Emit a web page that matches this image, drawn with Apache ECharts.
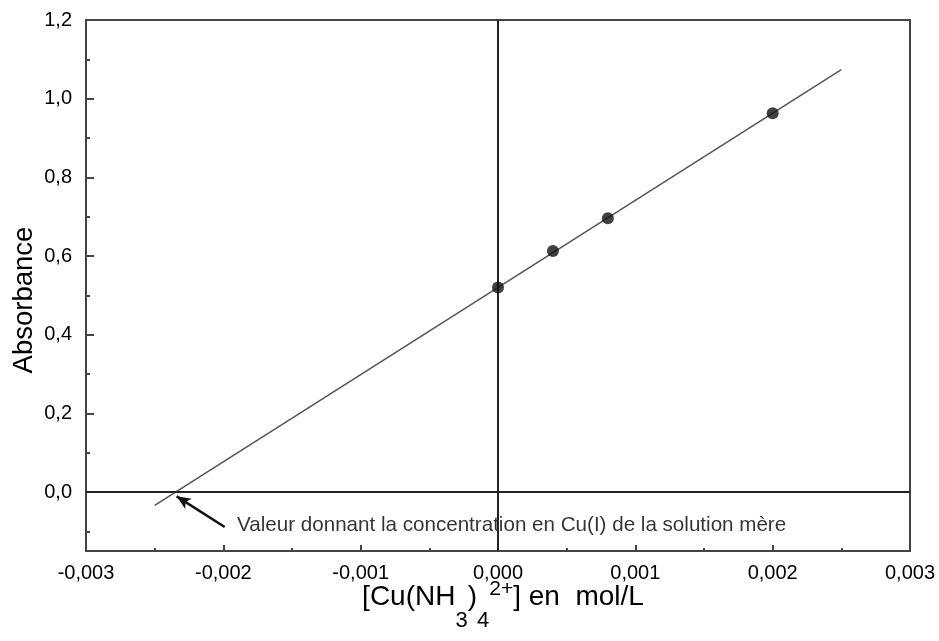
<!DOCTYPE html>
<html>
<head>
<meta charset="utf-8">
<script src="https://cdn.jsdelivr.net/npm/echarts@6/dist/echarts.min.js"></script>
<style>html,body{margin:0;padding:0;background:#fff}#c{width:939px;height:641px}</style>
</head>
<body>
<div id="c"></div>
<script>
// Measured points
const concentrations = [0, 0.0004, 0.0008, 0.002];
const absorbances = [0.52, 0.613, 0.696, 0.963];
// Fitted line end points
const fitX = [-0.0025, 0.0025];
const fitY = [-0.034, 1.074];
// Axis ticks
const yMajorTicks = [0, 0.2, 0.4, 0.6, 0.8, 1.0, 1.2];
const yMinorTicks = [-0.1, 0.1, 0.3, 0.5, 0.7, 0.9, 1.1];
// Annotation
const annotationText = 'Valeur donnant la concentration en Cu(I) de la solution mère';
const annotationAnchor = [-0.0019, -0.084];
const arrowTail = [-0.00199, -0.089];
const arrowHead = [-0.00234, -0.011];

const FONT = '"Liberation Sans", Arial, sans-serif';
const chart = echarts.init(document.getElementById('c'));
const fmtY = v => (Math.round(v * 10) / 10).toFixed(1).replace('.', ',');
const fmtX = v => (Math.abs(v) < 1e-9 ? 0 : v).toFixed(3).replace('.', ',');

chart.setOption({
  animation: false,
  backgroundColor: '#fff',
  grid: { left: 86, right: 29, top: 20, bottom: 90, show: true, borderColor: '#444', borderWidth: 2, containLabel: false, outerBoundsMode: 'none' },
  xAxis: {
    type: 'value', min: -0.003, max: 0.003, interval: 0.001,
    axisLine: { show: true, onZero: false, lineStyle: { color: '#444', width: 2 } },
    axisTick: { show: true, inside: true, length: 6, lineStyle: { color: '#444', width: 2 } },
    minorTick: { show: true, splitNumber: 2, length: 3, lineStyle: { color: '#444', width: 2 } },
    splitLine: { show: false },
    axisLabel: { formatter: fmtX, fontFamily: FONT, fontSize: 20, color: '#000', margin: 12 },
    name: '[Cu(NH{sub|3}){sub|4}{sup|2+}] en  mol/L',
    nameLocation: 'middle', nameGap: 31, nameMoveOverlap: false,
    nameTextStyle: {
      fontFamily: FONT, fontSize: 28, color: '#000', lineHeight: 30, padding: [0, 0, 0, 10],
      rich: {
        sub: { fontFamily: FONT, fontSize: 22, color: '#000', lineHeight: 20, padding: [48, 0, 0, 0] },
        sup: { fontFamily: FONT, fontSize: 21, color: '#000', lineHeight: 20, padding: [0, 0, 16, 0] }
      }
    }
  },
  yAxis: [{
    type: 'value', min: -0.15, max: 1.2,
    axisLine: { show: true, onZero: false, lineStyle: { color: '#444', width: 2 } },
    axisTick: { show: true, inside: true, length: 8, customValues: yMajorTicks, lineStyle: { color: '#444', width: 2 } },
    splitLine: { show: false },
    axisLabel: { customValues: yMajorTicks, formatter: fmtY, fontFamily: FONT, fontSize: 20, color: '#000', margin: 14 },
    name: 'Absorbance', nameLocation: 'middle', nameGap: 48, nameRotate: 90, nameMoveOverlap: false,
    nameTextStyle: { fontFamily: FONT, fontSize: 27.5, color: '#000', padding: [0, 29, 0, 0] }
  }, {
    type: 'value', min: -0.15, max: 1.2, position: 'left',
    axisLine: { show: false, onZero: false },
    axisTick: { show: true, inside: true, length: 4, customValues: yMinorTicks, lineStyle: { color: '#444', width: 2 } },
    axisLabel: { show: false },
    splitLine: { show: false }
  }],
  series: [{
    name: 'fit', type: 'line', silent: true,
    data: fitX.map((x, i) => [x, fitY[i]]),
    symbol: 'none',
    lineStyle: { color: '#555', width: 1.5 },
    z: 2,
    markLine: {
      silent: true, symbol: 'none', animation: false,
      label: { show: false },
      lineStyle: { color: '#222', width: 2, type: 'solid' },
      data: [{ xAxis: 0 }, { yAxis: 0 }]
    }
  }, {
    name: 'points', type: 'scatter',
    data: concentrations.map((x, i) => [x, absorbances[i]]),
    symbol: 'circle', symbolSize: 12,
    itemStyle: { color: '#111' },
    z: 5
  }, {
    name: 'annotation', type: 'scatter', silent: true,
    data: [annotationAnchor], symbolSize: 0,
    label: { show: true, position: 'right', distance: 0, formatter: annotationText, fontFamily: FONT, fontSize: 20.6, color: '#000' },
    markLine: {
      silent: true, symbol: ['none', 'arrow'], symbolSize: [9, 14],
      label: { show: false },
      lineStyle: { color: '#111', width: 2.5, type: 'solid' },
      data: [[{ coord: arrowTail }, { coord: arrowHead }]]
    }
  }]
});
</script>
</body>
</html>
